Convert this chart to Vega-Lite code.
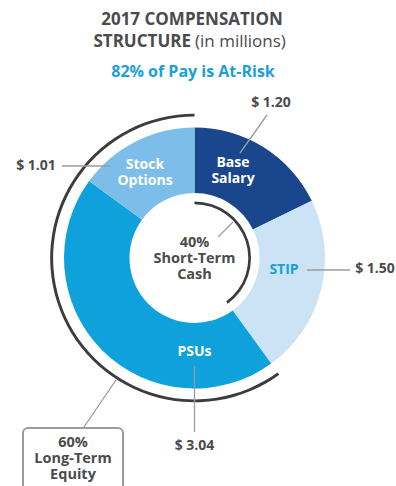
{
  "$schema": "https://vega.github.io/schema/vega-lite/v6.json",
  "width": 396,
  "height": 486,
  "padding": 0,
  "autosize": {"type": "none"},
  "background": "white",
  "config": {
    "view": {"stroke": null},
    "font": "Open Sans",
    "locale": {"number": {"decimal": ".", "thousands": ",", "grouping": [3], "currency": ["$ ", ""]}}
  },
  "datasets": {
    "pay": [
      {"part": "Base Salary", "value": 1.20, "idx": 1},
      {"part": "STIP", "value": 1.50, "idx": 2},
      {"part": "PSUs", "value": 3.04, "idx": 3},
      {"part": "Stock Options", "value": 1.01, "idx": 4}
    ],
    "spans": [
      {"span": "Short-Term Cash", "share": 40, "idx": 1},
      {"span": "Long-Term Equity", "share": 60, "idx": 2}
    ],
    "callouts": [
      {"part": "Base Salary", "x": 271, "y": 103},
      {"part": "Stock Options", "x": 36, "y": 166},
      {"part": "STIP", "x": 375, "y": 269},
      {"part": "PSUs", "x": 194.5, "y": 446}
    ],
    "leaders": [
      {"x": 240, "y": 153, "x2": 267, "y2": 115},
      {"x": 62, "y": 166, "x2": 110, "y2": 166},
      {"x": 307, "y": 270, "x2": 350, "y2": 270},
      {"x": 194.5, "y": 366, "x2": 194.5, "y2": 432},
      {"x": 218, "y": 237, "x2": 233, "y2": 222},
      {"x": 116, "y": 380, "x2": 84, "y2": 427}
    ],
    "inside": [
      {"text": "Base\nSalary", "x": 233, "y": 163},
      {"text": "Stock\nOptions", "x": 145, "y": 165},
      {"text": "PSUs", "x": 194.5, "y": 352}
    ]
  },
  "resolve": {"scale": {"theta": "independent", "color": "independent"}},
  "layer": [
    {
      "data": {"name": "pay"},
      "mark": {"type": "arc", "radius": 130.5, "innerRadius": 65},
      "encoding": {
        "x": {"datum": 194.5, "type": "quantitative", "scale": {"domain": [0, 396], "nice": false, "zero": false}, "axis": null},
        "y": {"datum": 258, "type": "quantitative", "scale": {"domain": [0, 486], "nice": false, "zero": false, "reverse": true}, "axis": null},
        "theta": {"field": "value", "type": "quantitative", "stack": true},
        "order": {"field": "idx", "type": "quantitative"},
        "color": {
          "field": "part",
          "type": "nominal",
          "legend": null,
          "scale": {
            "domain": ["Base Salary", "STIP", "PSUs", "Stock Options"],
            "range": ["#1a468d", "#cbe3f5", "#0ea1dc", "#7cbde9"]
          }
        }
      }
    },
    {
      "data": {"name": "spans"},
      "transform": [
        {"stack": "share", "groupby": [], "sort": [{"field": "idx"}], "as": ["s0", "s1"]},
        {"filter": "datum.span === 'Short-Term Cash'"}
      ],
      "mark": {"type": "arc", "radius": 56.5, "innerRadius": 53.8, "color": "#3c3c3e"},
      "encoding": {
        "x": {"datum": 194.5, "type": "quantitative"},
        "y": {"datum": 258, "type": "quantitative"},
        "theta": {"field": "s0", "type": "quantitative", "scale": {"domain": [0, 100], "range": [0, 6.283185]}},
        "theta2": {"field": "s1"}
      }
    },
    {
      "data": {"name": "spans"},
      "transform": [
        {"stack": "share", "groupby": [], "sort": [{"field": "idx"}], "as": ["s0", "s1"]},
        {"filter": "datum.span === 'Long-Term Equity'"}
      ],
      "mark": {"type": "arc", "radius": 144.3, "innerRadius": 141.4, "color": "#3c3c3e"},
      "encoding": {
        "x": {"datum": 194.5, "type": "quantitative"},
        "y": {"datum": 258, "type": "quantitative"},
        "theta": {"field": "s0", "type": "quantitative", "scale": {"domain": [0, 100], "range": [0, 6.283185]}},
        "theta2": {"field": "s1"}
      }
    },
    {
      "data": {"name": "leaders"},
      "mark": {"type": "rule", "color": "#9c9c9c", "strokeWidth": 1.3},
      "encoding": {
        "x": {"field": "x", "type": "quantitative"},
        "y": {"field": "y", "type": "quantitative"},
        "x2": {"field": "x2"},
        "y2": {"field": "y2"}
      }
    },
    {
      "data": {"values": [{"x": 23, "x2": 123, "y": 428, "y2": 500}]},
      "mark": {"type": "rect", "fill": null, "fillOpacity": 0, "stroke": "#9c9c9c", "strokeWidth": 2, "cornerRadius": 5},
      "encoding": {
        "x": {"field": "x", "type": "quantitative"},
        "y": {"field": "y", "type": "quantitative"},
        "x2": {"field": "x2"},
        "y2": {"field": "y2"}
      }
    },
    {
      "data": {"name": "callouts"},
      "transform": [
        {"lookup": "part", "from": {"data": {"name": "pay"}, "key": "part", "fields": ["value"]}}
      ],
      "mark": {"type": "text", "fontSize": 14, "fontWeight": "bold", "color": "#4b4b4d", "align": "center", "baseline": "middle"},
      "encoding": {
        "x": {"field": "x", "type": "quantitative"},
        "y": {"field": "y", "type": "quantitative"},
        "text": {"field": "value", "type": "quantitative", "format": "$.2f"}
      }
    },
    {
      "data": {"name": "inside"},
      "mark": {"type": "text", "fontSize": 14, "fontWeight": "bold", "color": "white", "align": "center", "baseline": "middle", "lineBreak": "\n", "lineHeight": 16},
      "encoding": {
        "x": {"field": "x", "type": "quantitative"},
        "y": {"field": "y", "type": "quantitative"},
        "text": {"field": "text"}
      }
    },
    {
      "data": {"values": [{"text": "STIP", "x": 284, "y": 270}]},
      "mark": {"type": "text", "fontSize": 14, "fontWeight": "bold", "color": "#1a9fdc", "align": "center", "baseline": "middle"},
      "encoding": {
        "x": {"field": "x", "type": "quantitative"},
        "y": {"field": "y", "type": "quantitative"},
        "text": {"field": "text"}
      }
    },
    {
      "data": {"values": [
        {"text": "40%\nShort-Term\nCash", "x": 194.5, "y": 243},
        {"text": "60%\nLong-Term\nEquity", "x": 73, "y": 443}
      ]},
      "mark": {"type": "text", "fontSize": 14.5, "fontWeight": "bold", "color": "#4b4b4d", "align": "center", "baseline": "middle", "lineBreak": "\n", "lineHeight": 16},
      "encoding": {
        "x": {"field": "x", "type": "quantitative"},
        "y": {"field": "y", "type": "quantitative"},
        "text": {"field": "text"}
      }
    },
    {
      "data": {"values": [{"text": "2017 COMPENSATION", "x": 192, "y": 20}]},
      "mark": {"type": "text", "fontSize": 17, "fontWeight": "bold", "color": "#4b4b4d", "align": "center", "baseline": "middle"},
      "encoding": {
        "x": {"field": "x", "type": "quantitative"},
        "y": {"field": "y", "type": "quantitative"},
        "text": {"field": "text"}
      }
    },
    {
      "data": {"values": [{"text": "STRUCTURE", "x": 191, "y": 42}]},
      "mark": {"type": "text", "fontSize": 17, "fontWeight": "bold", "color": "#4b4b4d", "align": "right", "baseline": "middle"},
      "encoding": {
        "x": {"field": "x", "type": "quantitative"},
        "y": {"field": "y", "type": "quantitative"},
        "text": {"field": "text"}
      }
    },
    {
      "data": {"values": [{"text": "(in millions)", "x": 195, "y": 42}]},
      "mark": {"type": "text", "fontSize": 17, "fontWeight": "normal", "color": "#4b4b4d", "align": "left", "baseline": "middle"},
      "encoding": {
        "x": {"field": "x", "type": "quantitative"},
        "y": {"field": "y", "type": "quantitative"},
        "text": {"field": "text"}
      }
    },
    {
      "data": {"values": [{"text": "82% of Pay is At-Risk", "x": 193, "y": 72}]},
      "mark": {"type": "text", "fontSize": 16, "fontWeight": "bold", "color": "#1a9fdc", "align": "center", "baseline": "middle"},
      "encoding": {
        "x": {"field": "x", "type": "quantitative"},
        "y": {"field": "y", "type": "quantitative"},
        "text": {"field": "text"}
      }
    }
  ]
}
